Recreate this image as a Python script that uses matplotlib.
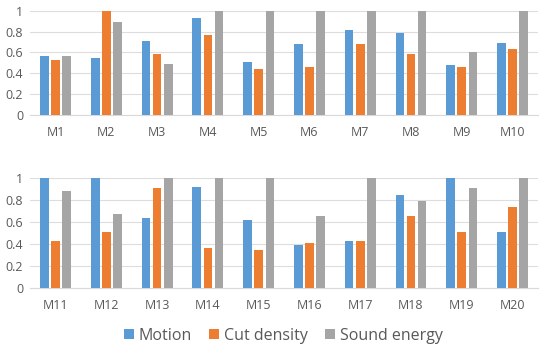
import numpy as np
import matplotlib.pyplot as plt

plt.rcParams['font.family'] = ['Open Sans', 'DejaVu Sans']

labels_top = ['M1', 'M2', 'M3', 'M4', 'M5', 'M6', 'M7', 'M8', 'M9', 'M10']
labels_bot = ['M11', 'M12', 'M13', 'M14', 'M15', 'M16', 'M17', 'M18', 'M19', 'M20']

motion_top = [0.57, 0.55, 0.71, 0.93, 0.51, 0.68, 0.82, 0.79, 0.48, 0.69]
cut_top = [0.53, 1.0, 0.58, 0.77, 0.44, 0.46, 0.68, 0.58, 0.46, 0.63]
sound_top = [0.57, 0.89, 0.49, 1.0, 1.0, 1.0, 1.0, 1.0, 0.60, 1.0]

motion_bot = [1.0, 1.0, 0.64, 0.92, 0.62, 0.39, 0.43, 0.85, 1.0, 0.51]
cut_bot = [0.43, 0.51, 0.91, 0.36, 0.35, 0.41, 0.43, 0.66, 0.51, 0.74]
sound_bot = [0.88, 0.67, 1.0, 1.0, 1.0, 0.66, 1.0, 0.79, 0.91, 1.0]

series_names = ['Motion', 'Cut density', 'Sound energy']
colors = ['#5B9BD5', '#ED7D31', '#A5A5A5']
tick_color = '#595959'

fig = plt.figure(figsize=(5.5, 3.6), dpi=100)
ax1 = fig.add_axes([0.055, 0.681, 0.923, 0.289])
ax2 = fig.add_axes([0.055, 0.2, 0.923, 0.305])


def draw(ax, labels, vals):
    x = np.arange(len(labels))
    w = 0.17
    offs = [-0.22, 0, 0.22]
    for v, o, c, n in zip(vals, offs, colors, series_names):
        ax.bar(x + o, v, width=w, color=c, label=n, zorder=3)
    ax.set_xlim(-0.5, len(labels) - 0.5)
    ax.set_ylim(0, 1)
    ax.set_yticks([0, 0.2, 0.4, 0.6, 0.8, 1])
    ax.set_yticklabels(['0', '0.2', '0.4', '0.6', '0.8', '1'])
    ax.set_xticks(x)
    ax.set_xticklabels(labels)
    ax.grid(axis='y', color='#DDDDDD', linewidth=0.8, zorder=0)
    for s in ['top', 'right', 'left']:
        ax.spines[s].set_visible(False)
    ax.spines['bottom'].set_color('#D9D9D9')
    ax.tick_params(axis='both', length=0, colors=tick_color, labelsize=9)
    ax.tick_params(axis='x', pad=8)
    ax.tick_params(axis='y', pad=5)


draw(ax1, labels_top, [motion_top, cut_top, sound_top])
draw(ax2, labels_bot, [motion_bot, cut_bot, sound_bot])

handles, names = ax2.get_legend_handles_labels()
fig.legend(handles, names, loc='center', bbox_to_anchor=(0.515, 0.068), ncol=3,
           frameon=False, fontsize=11.5, handlelength=0.6, handleheight=0.6,
           handletextpad=0.3, columnspacing=1.1, labelcolor=tick_color)

fig.savefig('out.png', dpi=100)
